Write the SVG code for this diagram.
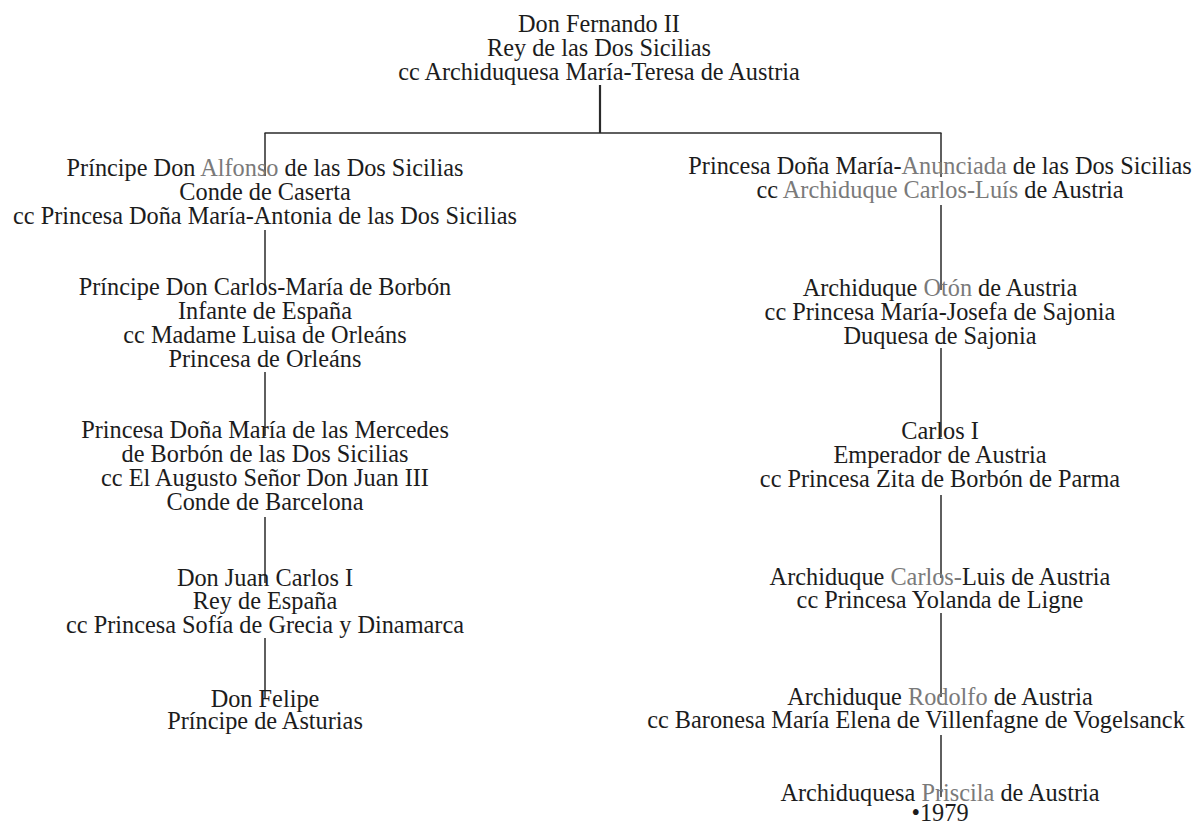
<svg xmlns="http://www.w3.org/2000/svg" width="1197" height="826" viewBox="0 0 1197 826">
<style>
text{font-family:"Liberation Serif","Times New Roman",serif;font-size:24.3px;fill:#1c1c1c;text-anchor:middle}
.f{fill:#7a7a7a}
.c line{stroke:#2a2a2a;stroke-width:1.5}
</style>
<rect width="1197" height="826" fill="#fff"/>
<g class="c" id="connectors">
<line x1="600" y1="85" x2="600" y2="133" style="stroke-width:2.2"/>
<line x1="264.5" y1="133" x2="941.5" y2="133"/>
<line x1="265" y1="133" x2="265" y2="176"/>
<line x1="265" y1="230" x2="265" y2="290"/>
<line x1="265" y1="372" x2="265" y2="436"/>
<line x1="265" y1="517" x2="265" y2="583"/>
<line x1="265" y1="638" x2="265" y2="698"/>
<line x1="941" y1="133" x2="941" y2="177"/>
<line x1="941" y1="205" x2="941" y2="290"/>
<line x1="941" y1="348" x2="941" y2="437"/>
<line x1="941" y1="495" x2="941" y2="578"/>
<line x1="941" y1="613" x2="941" y2="697"/>
<line x1="941" y1="735" x2="941" y2="797"/>
</g>
<g id="fernando">
<text x="599" y="32">Don Fernando II</text>
<text x="599" y="56">Rey de las Dos Sicilias</text>
<text x="599" y="80">cc Archiduquesa María-Teresa de Austria</text>
</g>
<g id="alfonso">
<text x="265" y="176">Príncipe Don <tspan class="f">Alfonso</tspan> de las Dos Sicilias</text>
<text x="265" y="200">Conde de Caserta</text>
<text x="265" y="224">cc Princesa Doña María-Antonia de las Dos Sicilias</text>
</g>
<g id="carlos-maria">
<text x="265" y="295">Príncipe Don Carlos-María de Borbón</text>
<text x="265" y="319">Infante de España</text>
<text x="265" y="343">cc Madame Luisa de Orleáns</text>
<text x="265" y="367">Princesa de Orleáns</text>
</g>
<g id="mercedes">
<text x="265" y="438">Princesa Doña María de las Mercedes</text>
<text x="265" y="462">de Borbón de las Dos Sicilias</text>
<text x="265" y="486">cc El Augusto Señor Don Juan III</text>
<text x="265" y="510">Conde de Barcelona</text>
</g>
<g id="juan-carlos">
<text x="265" y="585.5">Don Juan Carlos I</text>
<text x="265" y="609">Rey de España</text>
<text x="265" y="633">cc Princesa Sofía de Grecia y Dinamarca</text>
</g>
<g id="felipe">
<text x="265" y="706.5">Don Felipe</text>
<text x="265" y="729">Príncipe de Asturias</text>
</g>
<g id="anunciada">
<text x="940" y="174">Princesa Doña María-<tspan class="f">Anunciada</tspan> de las Dos Sicilias</text>
<text x="940" y="198">cc <tspan class="f">Archiduque Carlos-Luís</tspan> de Austria</text>
</g>
<g id="oton">
<text x="940" y="296">Archiduque <tspan class="f">Otón</tspan> de Austria</text>
<text x="940" y="320">cc Princesa María-Josefa de Sajonia</text>
<text x="940" y="344">Duquesa de Sajonia</text>
</g>
<g id="carlos-i">
<text x="940" y="439">Carlos I</text>
<text x="940" y="463">Emperador de Austria</text>
<text x="940" y="487">cc Princesa Zita de Borbón de Parma</text>
</g>
<g id="carlos-luis">
<text x="940" y="585">Archiduque <tspan class="f">Carlos-</tspan>Luis de Austria</text>
<text x="940" y="608">cc Princesa Yolanda de Ligne</text>
</g>
<g id="rodolfo">
<text x="940" y="705">Archiduque <tspan class="f">Rodolfo</tspan> de Austria</text>
<text x="916" y="728">cc Baronesa María Elena de Villenfagne de Vogelsanck</text>
</g>
<g id="priscila">
<text x="940" y="800.5">Archiduquesa <tspan class="f">Priscila</tspan> de Austria</text>
<text x="940" y="821">•1979</text>
</g>
</svg>
